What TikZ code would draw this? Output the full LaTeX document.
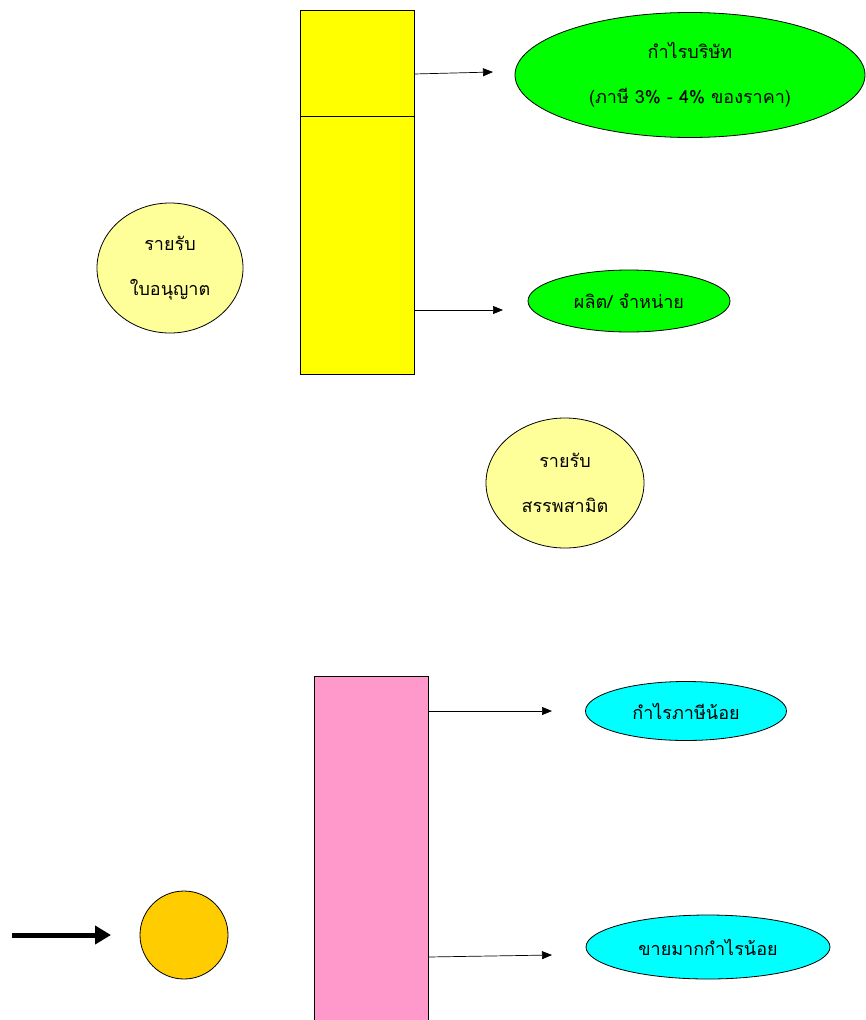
\documentclass[tikz,border=0pt]{standalone}
\usepackage{fontspec}
\newfontfamily\thaifont[Script=Thai]{Loma}
\usetikzlibrary{shapes.geometric,arrows.meta}
\definecolor{lightyel}{RGB}{255,255,153}
\definecolor{yelbar}{RGB}{255,255,0}
\definecolor{greenov}{RGB}{0,255,0}
\definecolor{cyanov}{RGB}{0,255,255}
\definecolor{pinkbar}{RGB}{255,153,204}
\definecolor{orangec}{RGB}{255,204,0}
\tikzset{
  bar/.style={draw=black, line width=1pt},
  oval/.style={draw=black, line width=0.8pt, ellipse, align=center, font=\thaifont\fontsize{18}{45}\selectfont, inner sep=0pt},
  conn/.style={-{Triangle[length=10pt,width=8pt]}, line width=0.7pt},
}
\begin{document}
\begin{tikzpicture}[x=1pt,y=-1pt]
\useasboundingbox (0,0) rectangle (865,1020);
% yellow bar
\node[bar, fill=yelbar, minimum width=114pt, minimum height=364pt, inner sep=0pt] (ybar) at (357,192) {};
\draw[line width=1pt] (300,116) -- (414,116);
\coordinate (a1s) at (414,74);
\coordinate (a2s) at (414,310);
% ellipses
\node[oval, fill=greenov, minimum width=350pt, minimum height=125pt] (profit) at (690,75) {กำไรบริษัท\\(ภาษี 3\% - 4\% ของราคา)};
\node[oval, fill=greenov, minimum width=202pt, minimum height=62pt] (prod) at (629,301) {ผลิต/ จำหน่าย};
\node[oval, fill=lightyel, minimum width=146pt, minimum height=130pt] (lic) at (170,268) {รายรับ\\ใบอนุญาต};
\node[oval, fill=lightyel, minimum width=158pt, minimum height=130pt] (conc) at (565,483) {รายรับ\\สรรพสามิต};
\draw[conn] (a1s) -- (493,72) coordinate (a1e);
\draw[conn] (a2s) -- (503,310);
% pink bar
\node[bar, fill=pinkbar, minimum width=114pt, minimum height=346pt, inner sep=0pt] (pbar) at (371,849) {};
\coordinate (a3s) at (428,711);
\coordinate (a4s) at (428,957);
\node[oval, fill=cyanov, minimum width=201pt, minimum height=59pt] (lowtax) at (686,711) {กำไรภาษีน้อย};
\node[oval, fill=cyanov, minimum width=244pt, minimum height=64pt] (sell) at (708,947) {ขายมากกำไรน้อย};
\draw[conn] (a3s) -- (552,711);
\draw[conn] (a4s) -- (552,955);
% orange circle and thick arrow
\node[circle, draw=black, line width=0.8pt, fill=orangec, minimum size=88pt, inner sep=0pt] (dot) at (184,935) {};
\coordinate (ts) at (12,935);
\draw[-{Triangle[length=16pt,width=18pt]}, line width=5pt] (ts) -- (111,935);
\end{tikzpicture}
\end{document}
